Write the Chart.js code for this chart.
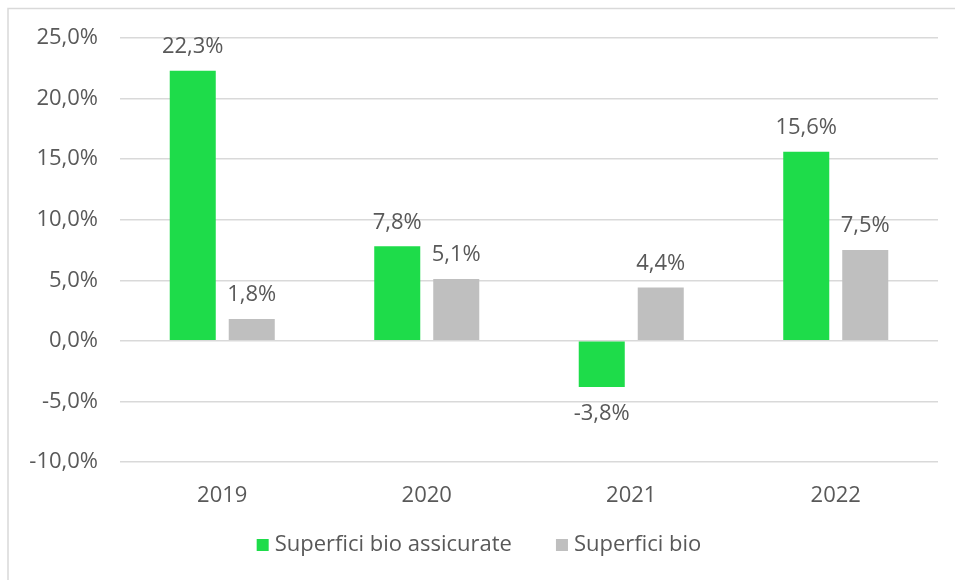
<!DOCTYPE html>
<html><head><meta charset="utf-8">
<script src="https://cdn.jsdelivr.net/npm/chart.js@4"></script>
<style>html,body{margin:0;padding:0;background:#fff}#wrap{width:955px;height:580px;position:relative}</style>
</head><body><div id="wrap"><canvas id="c" width="955" height="580"></canvas></div>
<script>
const categories = ['2019', '2020', '2021', '2022'];
const seriesNames = ['Superfici bio assicurate', 'Superfici bio'];
const assicurate = [22.3, 7.8, -3.8, 15.6];
const bio = [1.8, 5.1, 4.4, 7.5];
const yTicks = { min: -10, max: 25, step: 5 };

const FONT = '"Open Sans", Lato, sans-serif';
const FS = 22;
const TXT = '#595959';
const fmt = v => v.toFixed(1).replace('.', ',') + '%';

const frame = {
  id: 'frame',
  beforeDraw(chart) {
    const ctx = chart.ctx;
    ctx.save();
    ctx.strokeStyle = '#D9D9D9';
    ctx.lineWidth = 1.5;
    ctx.beginPath();
    ctx.moveTo(8, 580); ctx.lineTo(8, 8.5); ctx.lineTo(955, 8.5);
    ctx.stroke();
    ctx.restore();
  }
};
const labels = {
  id: 'labels',
  afterDatasetsDraw(chart) {
    const ctx = chart.ctx;
    ctx.save();
    ctx.font = FS + 'px ' + FONT;
    ctx.fillStyle = TXT;
    ctx.textAlign = 'center';
    ctx.textBaseline = 'middle';
    chart.data.datasets.forEach((ds, i) => {
      chart.getDatasetMeta(i).data.forEach((bar, j) => {
        const v = ds.data[j];
        const y = v >= 0 ? bar.y - 24 : bar.y + 27;
        ctx.fillText(fmt(v), bar.x, y);
      });
    });
    ctx.restore();
  }
};
const legend = {
  id: 'customLegend',
  afterDraw(chart) {
    const ctx = chart.ctx;
    ctx.save();
    ctx.font = FS + 'px ' + FONT;
    ctx.textBaseline = 'middle';
    ctx.textAlign = 'left';
    const box = 12, gapText = 6, gapItem = 44, cy = 545;
    const items = chart.data.datasets.map(d => ({ text: d.label, color: d.backgroundColor, w: ctx.measureText(d.label).width }));
    let total = 0;
    items.forEach((it, i) => { total += box + gapText + it.w + (i ? gapItem : 0); });
    let x = 479 - total / 2;
    items.forEach(it => {
      ctx.fillStyle = it.color;
      ctx.fillRect(x, cy - box / 2, box, box);
      ctx.fillStyle = TXT;
      ctx.fillText(it.text, x + box + gapText, cy);
      x += box + gapText + it.w + gapItem;
    });
    ctx.restore();
  }
};

new Chart(document.getElementById('c'), {
  type: 'bar',
  data: {
    labels: categories,
    datasets: [
      { label: seriesNames[0], data: assicurate, backgroundColor: '#1EDC4A' },
      { label: seriesNames[1], data: bio, backgroundColor: '#BFBFBF' }
    ]
  },
  options: {
    responsive: false,
    animation: false,
    datasets: { bar: { categoryPercentage: 0.577, barPercentage: 0.78 } },
    layout: { padding: { top: 38, right: 17, left: 0, bottom: 58 } },
    plugins: {
      tooltip: { enabled: false },
      legend: { display: false }
    },
    scales: {
      x: {
        grid: { display: false },
        border: { display: false },
        ticks: { font: { family: FONT, size: FS }, color: TXT, padding: 13 },
        afterFit(s) { s.height = 60; }
      },
      y: {
        min: yTicks.min, max: yTicks.max,
        grid: { color: '#D9D9D9', lineWidth: 1.5, drawTicks: false },
        border: { display: false },
        ticks: { stepSize: yTicks.step, font: { family: FONT, size: FS }, color: TXT, padding: 22, callback: v => fmt(v) },
        afterFit(s) { s.width = 120; }
      }
    }
  },
  plugins: [frame, labels, legend]
});
</script></body></html>
